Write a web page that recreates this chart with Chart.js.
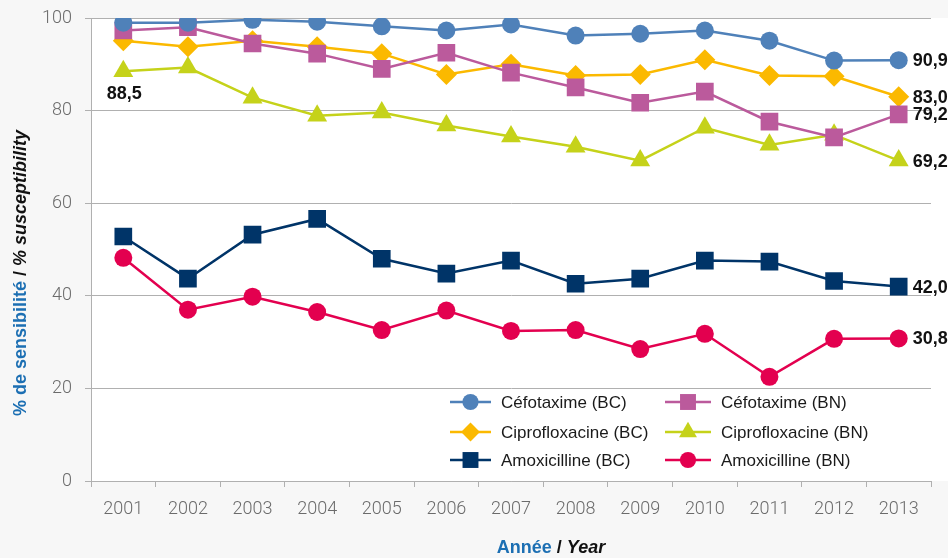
<!DOCTYPE html>
<html>
<head>
<meta charset="utf-8">
<script src="https://cdn.jsdelivr.net/npm/chart.js@4/dist/chart.umd.min.js"></script>
<style>
  html, body { margin: 0; padding: 0; background: #f7f7f7; }
  #chart { display: block; }
</style>
</head>
<body>
<canvas id="chart" width="948" height="558"></canvas>
<script>
// valeurs
const years = ["2001", "2002", "2003", "2004", "2005", "2006", "2007", "2008", "2009", "2010", "2011", "2012", "2013"];
const cefotaximeBC = [99.0, 99.0, 99.6, 99.2, 98.2, 97.3, 98.6, 96.2, 96.6, 97.3, 95.1, 90.8, 90.9];
const cefotaximeBN = [97.3, 98.0, 94.5, 92.3, 89.0, 92.5, 88.2, 85.0, 81.7, 84.1, 77.6, 74.2, 79.2];
const ciproBC = [95.1, 93.8, 95.1, 93.8, 92.3, 87.8, 90.0, 87.6, 87.8, 91.0, 87.6, 87.4, 83.0];
const ciproBN = [88.5, 89.3, 82.8, 78.9, 79.6, 76.8, 74.4, 72.2, 69.2, 76.3, 72.6, 74.8, 69.2];
const amoxBC = [52.8, 43.7, 53.2, 56.6, 48.0, 44.8, 47.6, 42.6, 43.7, 47.6, 47.4, 43.2, 42.0];
const amoxBN = [48.2, 37.0, 39.8, 36.5, 32.6, 36.8, 32.4, 32.6, 28.5, 31.8, 22.5, 30.7, 30.8];
const yTicks = [0, 20, 40, 60, 80, 100];

const seriesNames = ["Céfotaxime (BC)", "Céfotaxime (BN)", "Ciprofloxacine (BC)", "Ciprofloxacine (BN)", "Amoxicilline (BC)", "Amoxicilline (BN)"];
const seriesData = [cefotaximeBC, cefotaximeBN, ciproBC, ciproBN, amoxBC, amoxBN];
const colors = ["#4f81b9", "#bb5a9c", "#fbb900", "#c5d21a", "#003468", "#e3004f"];
const styles = ["circle", "rect", "rectRot", "triangle", "rect", "circle"];
const radii = [9, 12.5, 10.5, 11.5, 12.5, 9];

const labelFont = "bold 18px 'Liberation Sans', Arial, sans-serif";
const titleFont = "bold 18px 'Liberation Sans', Arial, sans-serif";
const titleFontIt = "italic bold 18px 'Liberation Sans', Arial, sans-serif";

function fmt(v) {
  return v.toFixed(1).replace(".", ",");
}

function drawMarker(ctx, style, r, x, y) {
  if (Chart.helpers && Chart.helpers.drawPoint) {
    Chart.helpers.drawPoint(ctx, { pointStyle: style, radius: r, rotation: 0 }, x, y);
  }
}

// écrit un titre en plusieurs morceaux (couleurs / styles différents), centré sur x
function drawParts(ctx, parts, cx, cy) {
  let total = 0;
  parts.forEach((p) => { ctx.font = p[1]; total += ctx.measureText(p[0]).width; });
  let x = cx - total / 2;
  ctx.textAlign = "left";
  ctx.textBaseline = "middle";
  parts.forEach((p) => {
    ctx.font = p[1];
    ctx.fillStyle = p[2];
    ctx.fillText(p[0], x, cy);
    x += ctx.measureText(p[0]).width;
  });
}

const extras = {
  id: "extras",
  beforeDraw(chart) {
    const ctx = chart.ctx;
    const a = chart.chartArea;
    ctx.save();
    ctx.fillStyle = "#f7f7f7";
    ctx.fillRect(0, 0, chart.width, chart.height);
    ctx.fillStyle = "#ffffff";
    ctx.fillRect(a.left, a.top, chart.width - a.left, a.bottom - a.top);
    ctx.restore();
  },
  afterDraw(chart) {
    const ctx = chart.ctx;
    ctx.save();

    // étiquettes de valeurs
    ctx.font = labelFont;
    ctx.fillStyle = "#111";
    ctx.textBaseline = "middle";
    chart.data.datasets.forEach((ds, i) => {
      const pts = chart.getDatasetMeta(i).data;
      const last = pts[pts.length - 1];
      ctx.textAlign = "left";
      ctx.fillText(fmt(ds.data[ds.data.length - 1]), last.x + 14, last.y + 1);
    });
    const first = chart.getDatasetMeta(3).data[0];
    ctx.textAlign = "center";
    ctx.fillText(fmt(ciproBN[0]), first.x + 1, first.y + 23);

    // légende
    ctx.font = "17px 'Liberation Sans', Arial, sans-serif";
    const colX = [450, 665];
    const colLen = [41, 46];
    const rowY = [402, 432, 460];
    chart.data.datasets.forEach((ds, i) => {
      const c = i % 2;
      const r = Math.floor(i / 2);
      const x0 = colX[c];
      const y = rowY[r];
      ctx.strokeStyle = ds.borderColor;
      ctx.lineWidth = 2.5;
      ctx.beginPath();
      ctx.moveTo(x0, y);
      ctx.lineTo(x0 + colLen[c], y);
      ctx.stroke();
      ctx.fillStyle = ds.borderColor;
      drawMarker(ctx, ds.pointStyle, ds.pointRadius * 0.9, x0 + colLen[c] / 2, y);
      ctx.fillStyle = "#1a1a1a";
      ctx.textAlign = "left";
      ctx.textBaseline = "middle";
      ctx.fillText(seriesNames[i], x0 + colLen[c] + 10, y + 1);
    });

    // titre axe Y
    ctx.translate(21, 273);
    ctx.rotate(-Math.PI / 2);
    drawParts(ctx, [
      ["% de sensibilité", titleFont, "#1c6fb3"],
      [" / ", titleFont, "#111"],
      ["% susceptibility", titleFontIt, "#111"]
    ], 0, 0);
    ctx.setTransform(1, 0, 0, 1, 0, 0);

    // titre axe X
    drawParts(ctx, [
      ["Année", titleFont, "#1c6fb3"],
      [" / ", titleFont, "#111"],
      ["Year", titleFontIt, "#111"]
    ], 551, 548);
    ctx.restore();
  }
};

const ctx = document.getElementById("chart").getContext("2d");
new Chart(ctx, {
  type: "line",
  data: {
    labels: years,
    datasets: seriesData.map((d, i) => ({
      label: seriesNames[i],
      data: d,
      borderColor: colors[i],
      backgroundColor: colors[i],
      pointBackgroundColor: colors[i],
      pointBorderColor: colors[i],
      pointBorderWidth: 0,
      pointStyle: styles[i],
      pointRadius: radii[i],
      pointHoverRadius: radii[i],
      borderWidth: 2.5,
      fill: false,
      tension: 0
    }))
  },
  options: {
    responsive: false,
    animation: false,
    layout: { padding: { top: 18, right: 17, left: 0, bottom: 0 } },
    plugins: {
      legend: { display: false },
      tooltip: { enabled: false },
      title: { display: false }
    },
    scales: {
      x: {
        offset: true,
        grid: {
          offset: true,
          drawOnChartArea: false,
          drawTicks: true,
          tickLength: 6,
          color: "#b0b0b0"
        },
        border: { display: true, color: "#b0b0b0", width: 1 },
        ticks: {
          color: "#6b6b6b",
          padding: 12,
          font: { family: "Roboto, 'Liberation Sans', sans-serif", size: 18, weight: 300 }
        },
        afterFit(s) { s.height = 77; }
      },
      y: {
        min: 0,
        max: 100,
        afterBuildTicks(s) { s.ticks = yTicks.map((v) => ({ value: v })); },
        grid: {
          color: "#b0b0b0",
          tickLength: 6,
          drawTicks: true
        },
        border: { display: true, color: "#b0b0b0", width: 1 },
        ticks: {
          color: "#6b6b6b",
          padding: 13,
          font: { family: "Roboto, 'Liberation Sans', sans-serif", size: 18, weight: 300 }
        },
        afterFit(s) {
          s.width = 91;
          s.paddingTop = 0;
          s.paddingBottom = 0;
        }
      }
    }
  },
  plugins: [extras]
});
</script>
</body>
</html>
